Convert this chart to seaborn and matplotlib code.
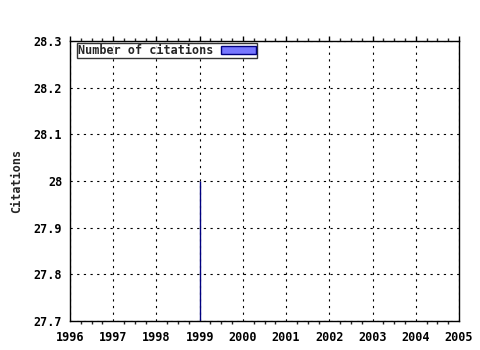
import matplotlib
matplotlib.use("Agg")
import matplotlib.pyplot as plt
import seaborn as sns
import pandas as pd
from matplotlib.ticker import MultipleLocator

years = [1999]
citations = [28]
x_ticks = [1996, 1997, 1998, 1999, 2000, 2001, 2002, 2003, 2004, 2005]
y_ticks = [27.7, 27.8, 27.9, 28.0, 28.1, 28.2, 28.3]
y_labels = ["27.7", "27.8", "27.9", "28", "28.1", "28.2", "28.3"]
series_name = "Number of citations"

sns.set_style("white")
plt.rcParams['font.family'] = ['DejaVu Sans Mono']
plt.rcParams['font.weight'] = 'bold'
plt.rcParams['font.size'] = 8.5

df = pd.DataFrame({"Year": years, "Citations": citations})

fig = plt.figure(figsize=(4.8, 3.5), dpi=100)
ax = fig.add_axes([70/480, 1-321/350, (459-70)/480, (321-41)/350])

sns.barplot(data=df, x="Year", y="Citations", native_scale=True, width=0.005,
            color="#7777ff", edgecolor="#000080", linewidth=1.0,
            label=series_name, ax=ax, saturation=1)

ax.set_xlim(x_ticks[0], x_ticks[-1])
ax.set_ylim(y_ticks[0], y_ticks[-1])
ax.set_xticks(x_ticks)
ax.set_xticklabels([str(t) for t in x_ticks], fontweight='bold')
ax.set_yticks(y_ticks)
ax.set_yticklabels(y_labels, fontweight='bold')
ax.xaxis.set_minor_locator(MultipleLocator(0.25))
ax.tick_params(axis='both', which='major', direction='out', length=3.5, width=1,
               top=True, right=False, colors='black', labelsize=8.5)
ax.tick_params(axis='x', which='major', pad=4)
ax.tick_params(axis='y', which='major', pad=2)
ax.tick_params(axis='x', which='minor', direction='out', length=2, width=1,
               top=True, bottom=True)
ax.set_xlabel("")
ax.set_ylabel("Citations", fontweight='bold', fontsize=8.5, labelpad=8)
ax.grid(True, which='major', color='black', linestyle=(0, (2, 4)), linewidth=0.8)
ax.set_axisbelow(True)
for s in ax.spines.values():
    s.set_color('black')
    s.set_linewidth(1)

leg = ax.legend(loc='upper left', bbox_to_anchor=(0.018, 0.993), markerfirst=False,
                frameon=True, fancybox=False, borderpad=0.1, handlelength=3.0,
                handleheight=0.6, handletextpad=0.6, borderaxespad=0,
                prop={'family': 'DejaVu Sans Mono', 'weight': 'bold', 'size': 8.5})
leg.get_frame().set_edgecolor('black')
leg.get_frame().set_linewidth(1)
for h in leg.legend_handles:
    h.set_facecolor('#7777ff')
    h.set_edgecolor('#000080')
    h.set_linewidth(1)

fig.savefig("out.png", dpi=100)
